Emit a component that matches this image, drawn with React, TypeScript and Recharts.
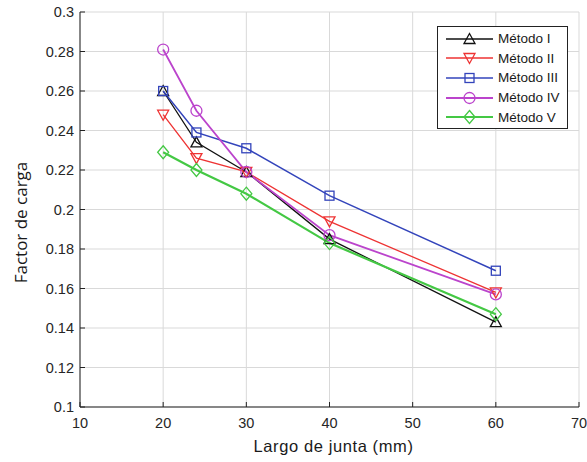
import { LineChart, Line, XAxis, YAxis, CartesianGrid, Legend, Label } from "recharts";

// values
const largo = [20, 24, 30, 40, 60];
const metodoI = [0.26, 0.234, 0.219, 0.185, 0.143];
const metodoII = [0.248, 0.226, 0.219, 0.194, 0.158];
const metodoIII = [0.26, 0.239, 0.231, 0.207, 0.169];
const metodoIV = [0.281, 0.25, 0.219, 0.187, 0.157];
const metodoV = [0.229, 0.22, 0.208, 0.183, 0.147];

const xTicks = [10, 20, 30, 40, 50, 60, 70];
const yTicks = [0.1, 0.12, 0.14, 0.16, 0.18, 0.2, 0.22, 0.24, 0.26, 0.28, 0.3];

type Shape = "up" | "down" | "square" | "circle" | "diamond";

const series: { key: string; name: string; color: string; shape: Shape; width: number }[] = [
  { key: "m1", name: "Método I", color: "#111111", shape: "up", width: 1.3 },
  { key: "m2", name: "Método II", color: "#ee3333", shape: "down", width: 1.3 },
  { key: "m3", name: "Método III", color: "#3344bb", shape: "square", width: 1.5 },
  { key: "m4", name: "Método IV", color: "#bb44cc", shape: "circle", width: 1.8 },
  { key: "m5", name: "Método V", color: "#44c844", shape: "diamond", width: 2.2 },
];

const data = largo.map((x, i) => ({
  x,
  m1: metodoI[i],
  m2: metodoII[i],
  m3: metodoIII[i],
  m4: metodoIV[i],
  m5: metodoV[i],
}));

const FONT = "'Liberation Sans', Arial, sans-serif";

function Marker({ cx, cy, shape, color }: { cx: number; cy: number; shape: Shape; color: string }) {
  const s = 5.5;
  const common = { fill: "none", stroke: color, strokeWidth: 1.3 };
  if (shape === "up")
    return <polygon points={`${cx},${cy - s} ${cx - s},${cy + s - 1} ${cx + s},${cy + s - 1}`} {...common} />;
  if (shape === "down")
    return <polygon points={`${cx},${cy + s} ${cx - s},${cy - s + 1} ${cx + s},${cy - s + 1}`} {...common} />;
  if (shape === "square") return <rect x={cx - 4.5} y={cy - 4.5} width={9} height={9} {...common} />;
  if (shape === "circle") return <circle cx={cx} cy={cy} r={5.5} {...common} />;
  return <polygon points={`${cx},${cy - s - 1} ${cx + s},${cy} ${cx},${cy + s + 1} ${cx - s},${cy}`} {...common} />;
}

const makeDot = (shape: Shape, color: string) => (p: any) => (
  <Marker key={`dot-${shape}-${p.index}`} cx={p.cx} cy={p.cy} shape={shape} color={color} />
);

function LegendBox() {
  return (
    <div
      style={{
        border: "1px solid #222",
        background: "#fff",
        width: 129,
        padding: "2px 0 1px 0",
        fontFamily: FONT,
        fontSize: 13.5,
        color: "#1a1a1a",
      }}
    >
      {series.map((s) => (
        <div key={s.key} style={{ display: "flex", alignItems: "center", height: 19.6 }}>
          <svg width={54} height={16} style={{ marginLeft: 6 }}>
            <line x1={2} y1={8} x2={49} y2={8} stroke={s.color} strokeWidth={s.width} />
            <Marker cx={25.5} cy={8} shape={s.shape} color={s.color} />
          </svg>
          <span>{s.name}</span>
        </div>
      ))}
    </div>
  );
}

const fmt = (v: number) => String(Number(v.toFixed(2)));
const tickStyle = { fontSize: 14.5, fill: "#262626", fontFamily: FONT };

export default function App() {
  return (
    <div style={{ position: "absolute", left: 0, top: 0, width: 587, height: 462, background: "#fff" }}>
      <LineChart width={587} height={462} data={data} margin={{ top: 12, right: 8, bottom: 0, left: 0 }}>
        <CartesianGrid stroke="#d9d9d9" strokeWidth={1} />
        <XAxis
          dataKey="x"
          type="number"
          domain={[10, 70]}
          ticks={xTicks}
          height={55}
          tickSize={-5}
          tickMargin={16}
          stroke="#222"
          tick={tickStyle}
          tickFormatter={fmt}
        >
          <Label
            value="Largo de junta (mm)"
            position="insideBottom"
            offset={10}
            dx={4}
            style={{ fontSize: 16.5, letterSpacing: 0.6, fill: "#1a1a1a", fontFamily: FONT }}
          />
        </XAxis>
        <XAxis
          xAxisId="top"
          orientation="top"
          type="number"
          domain={[10, 70]}
          ticks={xTicks}
          height={0}
          tickSize={-5}
          stroke="#222"
          tickFormatter={() => ""}
        />
        <YAxis
          type="number"
          domain={[0.1, 0.3]}
          ticks={yTicks}
          width={80}
          tickSize={-5}
          tickMargin={11}
          stroke="#222"
          tick={tickStyle}
          tickFormatter={fmt}
          interval={0}
        >
          <Label
            value="Factor de carga"
            angle={-90}
            position="insideLeft"
            offset={21}
            dy={13}
            style={{
              fontSize: 17,
              fill: "#1a1a1a",
              textAnchor: "middle",
              fontFamily: "'Open Sans', 'Noto Sans', sans-serif",
            }}
          />
        </YAxis>
        <YAxis
          yAxisId="right"
          orientation="right"
          type="number"
          domain={[0.1, 0.3]}
          ticks={yTicks}
          width={0}
          tickSize={-5}
          stroke="#222"
          tickFormatter={() => ""}
          interval={0}
        />
        {series.map((s) => (
          <Line
            key={s.key}
            dataKey={s.key}
            name={s.name}
            stroke={s.color}
            strokeWidth={s.width}
            dot={makeDot(s.shape, s.color)}
            activeDot={false}
            isAnimationActive={false}
          />
        ))}
        <Legend
          layout="vertical"
          align="center"
          verticalAlign="middle"
          content={() => <LegendBox />}
          wrapperStyle={{ top: 26, left: 437, width: 131 }}
        />
      </LineChart>
    </div>
  );
}
